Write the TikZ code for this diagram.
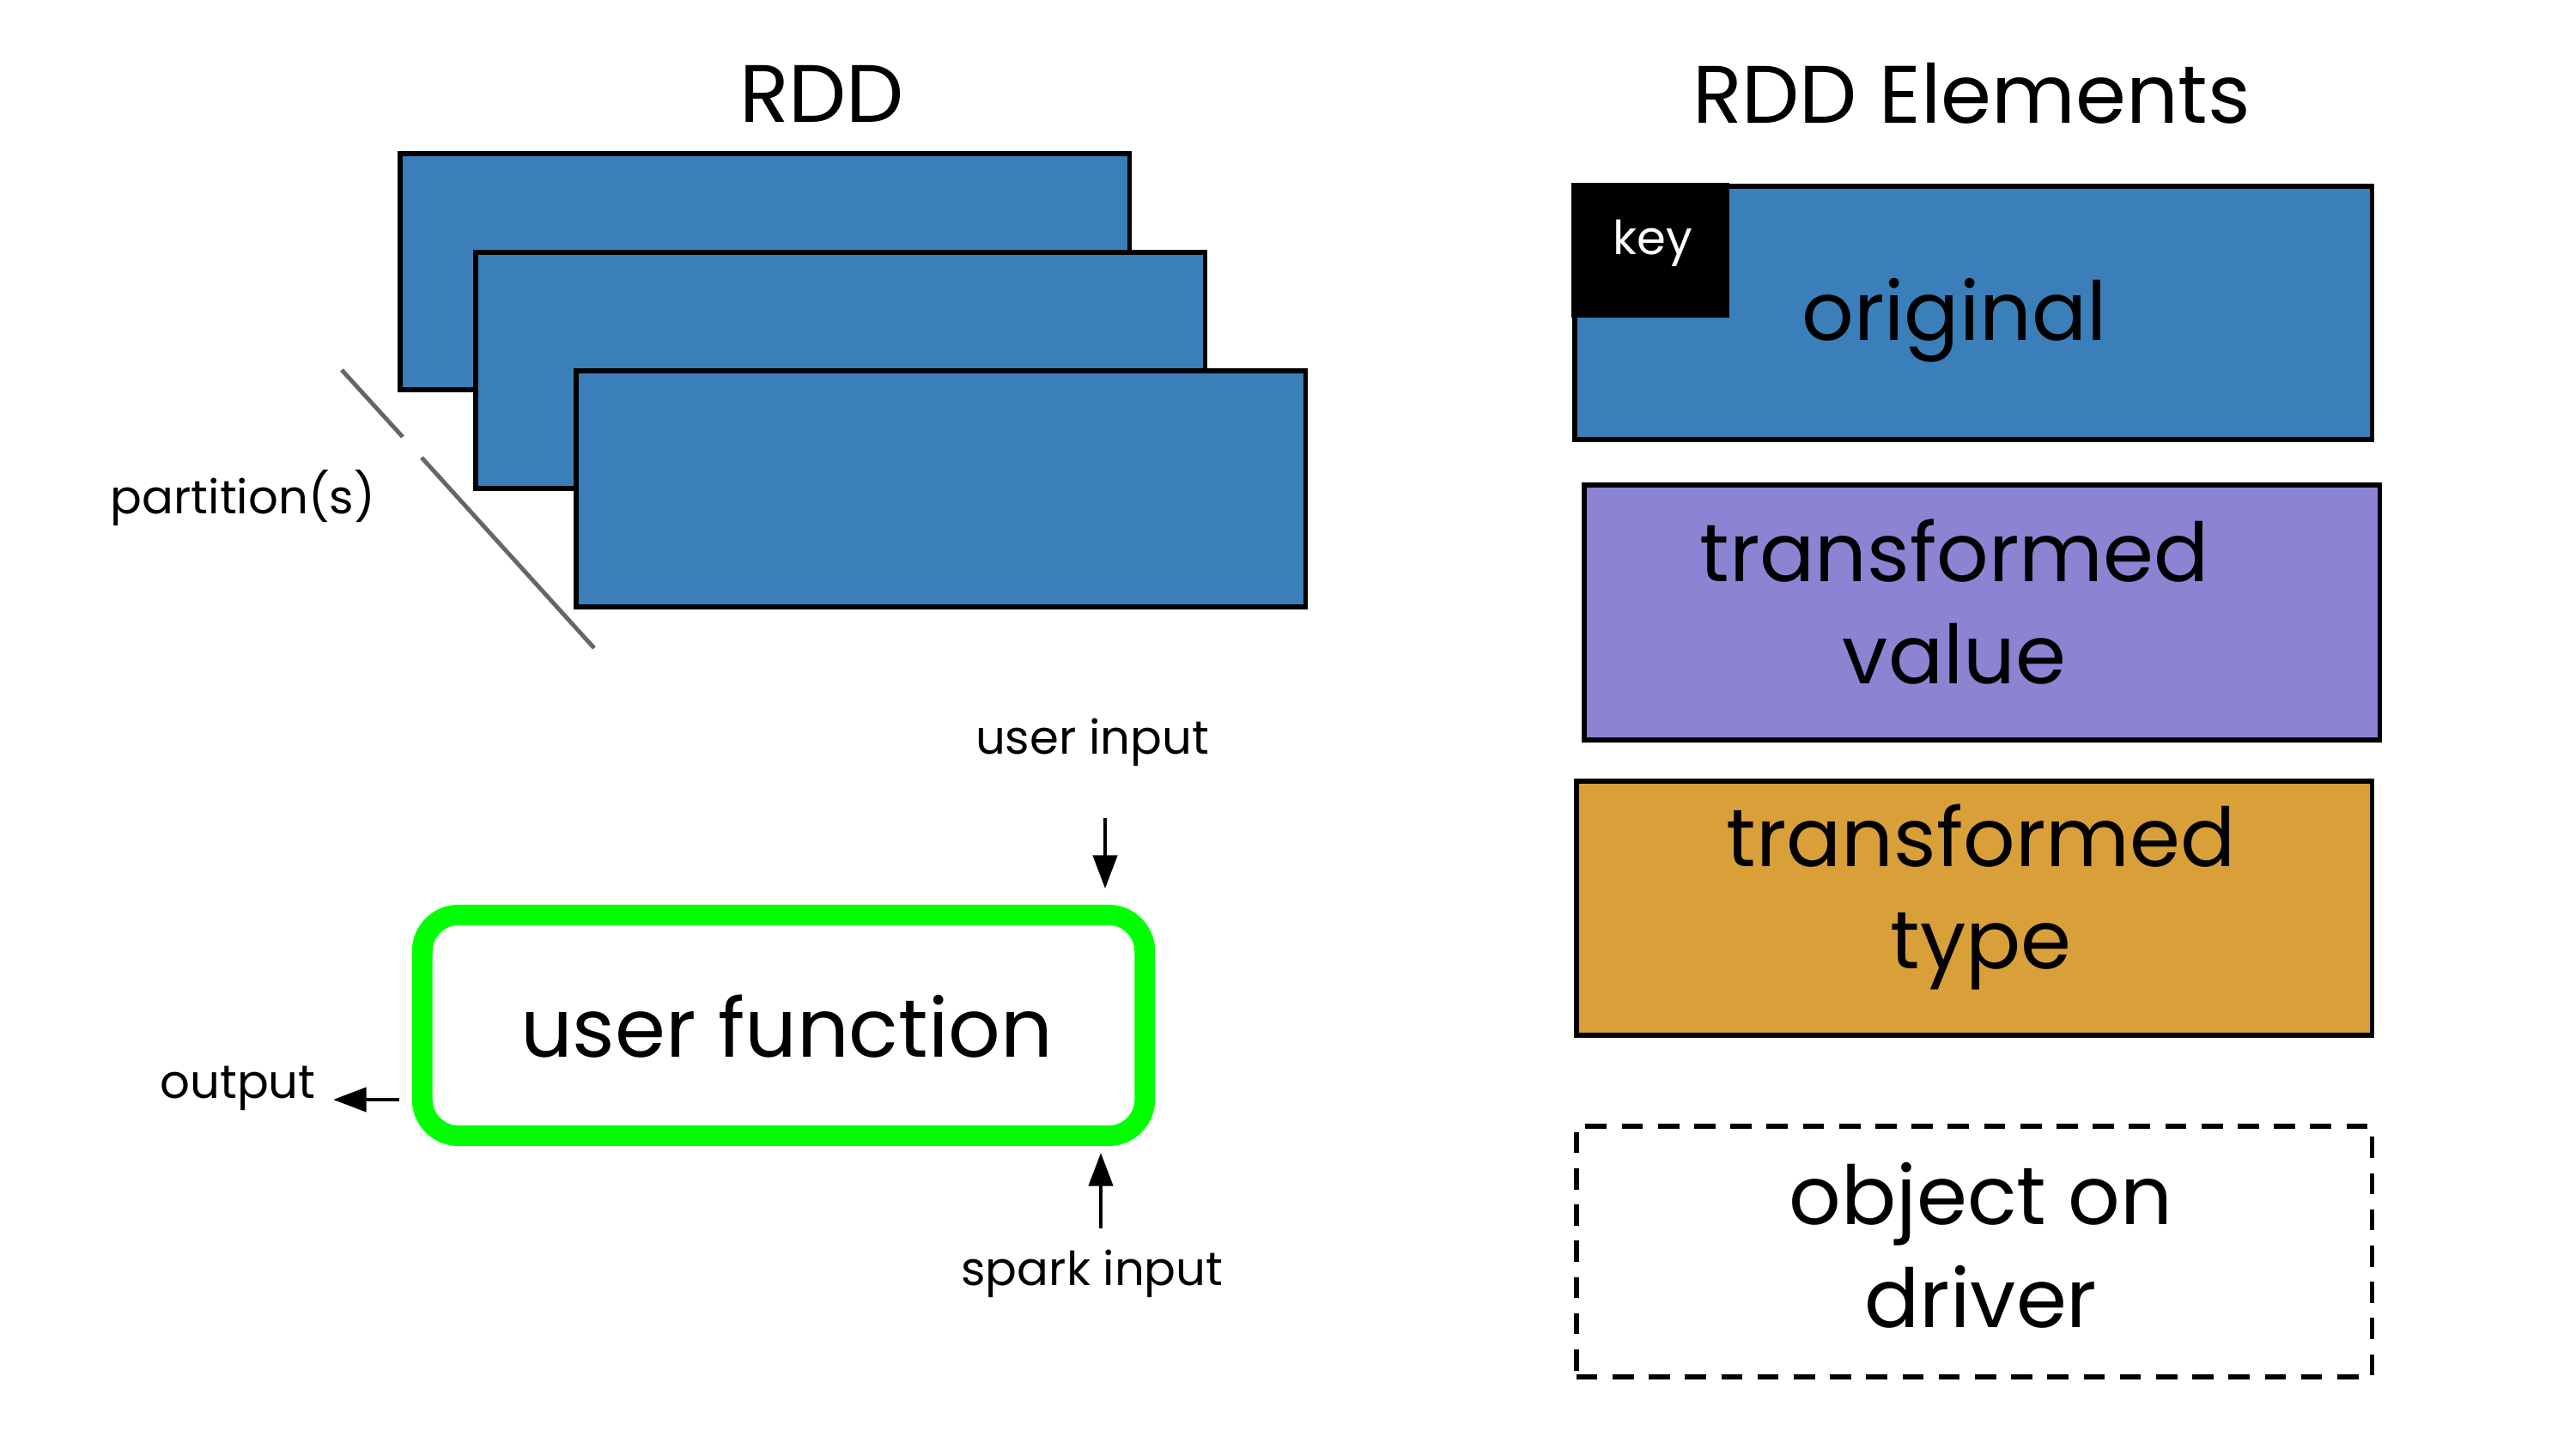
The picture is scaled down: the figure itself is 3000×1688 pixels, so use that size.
\documentclass[tikz,border=0pt]{standalone}
\usepackage{fontspec}
\setmainfont{Poppins}
\usetikzlibrary{arrows.meta}
\definecolor{rddblue}{HTML}{3A7FBA}
\definecolor{lav}{HTML}{8B84D3}
\definecolor{ochre}{HTML}{D9A03A}
\definecolor{ufgreen}{HTML}{00FF00}
\definecolor{pgray}{HTML}{666666}
\tikzset{
  part/.style={draw, line width=1.6pt, fill=rddblue, anchor=north west, inner sep=0pt},
  elem/.style={draw, line width=1.6pt, anchor=north west, inner sep=0pt},
  big/.style={font=\fontsize{27}{34}\selectfont, align=center, inner sep=0pt},
  small/.style={font=\fontsize{15.5}{18}\selectfont, inner sep=0pt},
  arr/.style={line width=1.2pt, -{Triangle[length=11pt,width=8pt]}},
}
\begin{document}
\begin{tikzpicture}[x=0.01cm,y=-0.01cm]
\path[use as bounding box, fill=white] (0,0) rectangle (3000,1688);
% titles
\node[big] (t1) at (957,109) {RDD};
\node[big] (t2) at (2296,109) {RDD Elements};
% partitions
\node[part, minimum width=8.49cm, minimum height=2.75cm] (p1) at (463,176) {};
\node[part, minimum width=8.49cm, minimum height=2.75cm] (p2) at (551,291) {};
\node[part, minimum width=8.49cm, minimum height=2.75cm] (p3) at (668,429) {};
\draw[pgray, line width=1.4pt] (398,431) -- (469,509);
\draw[pgray, line width=1.4pt] (491,533) -- (692,755);
\node[small] (pl) at (283,580) {partition(s)};
% elements
\node[elem, fill=rddblue, minimum width=9.28cm, minimum height=2.95cm] (e1) at (1831,214) {};
\node[fill=black, anchor=north west, inner sep=0pt, minimum width=1.84cm, minimum height=1.57cm] (key) at (1829,212) {};
\node[small, text=white] (kt) at (1925,283) {key};
\node[big] (ot) at (2276,373) {original};
\node[elem, fill=lav, minimum width=9.26cm, minimum height=2.97cm] (e2) at (1842,562) {};
\node[big] (tv) at (2276,701) {transformed\\value};
\node[elem, fill=ochre, minimum width=9.26cm, minimum height=2.96cm] (e3) at (1833,907) {};
\node[big] (tt) at (2307,1045) {transformed\\type};
\node[elem, dash pattern=on 7pt off 5pt, minimum width=9.26cm, minimum height=2.92cm] (e4) at (1833,1309) {};
\node[big] (od) at (2307,1451) {object on\\driver};
% user function
\node[draw=ufgreen, line width=6.8pt, rounded corners=12pt, minimum width=8.41cm, minimum height=2.57cm, inner sep=0pt] (uf) at (912.5,1194.5) {};
\node[big] (uft) at (916,1196) {user function};
\node[small] (ui) at (1272,865) {user input};
\node[small] (si) at (1272,1484) {spark input};
\node[small] (out) at (277,1268) {output};
\coordinate (uiS) at (1287,953);
\coordinate (uiE) at (1287,1035);
\coordinate (siS) at (1282,1431);
\coordinate (siE) at (1282,1343);
\coordinate (outS) at (465,1281);
\coordinate (outE) at (388,1281);
\draw[arr] (uiS) -- (uiE);
\draw[arr] (siS) -- (siE);
\draw[arr] (outS) -- (outE);
\end{tikzpicture}
\end{document}
